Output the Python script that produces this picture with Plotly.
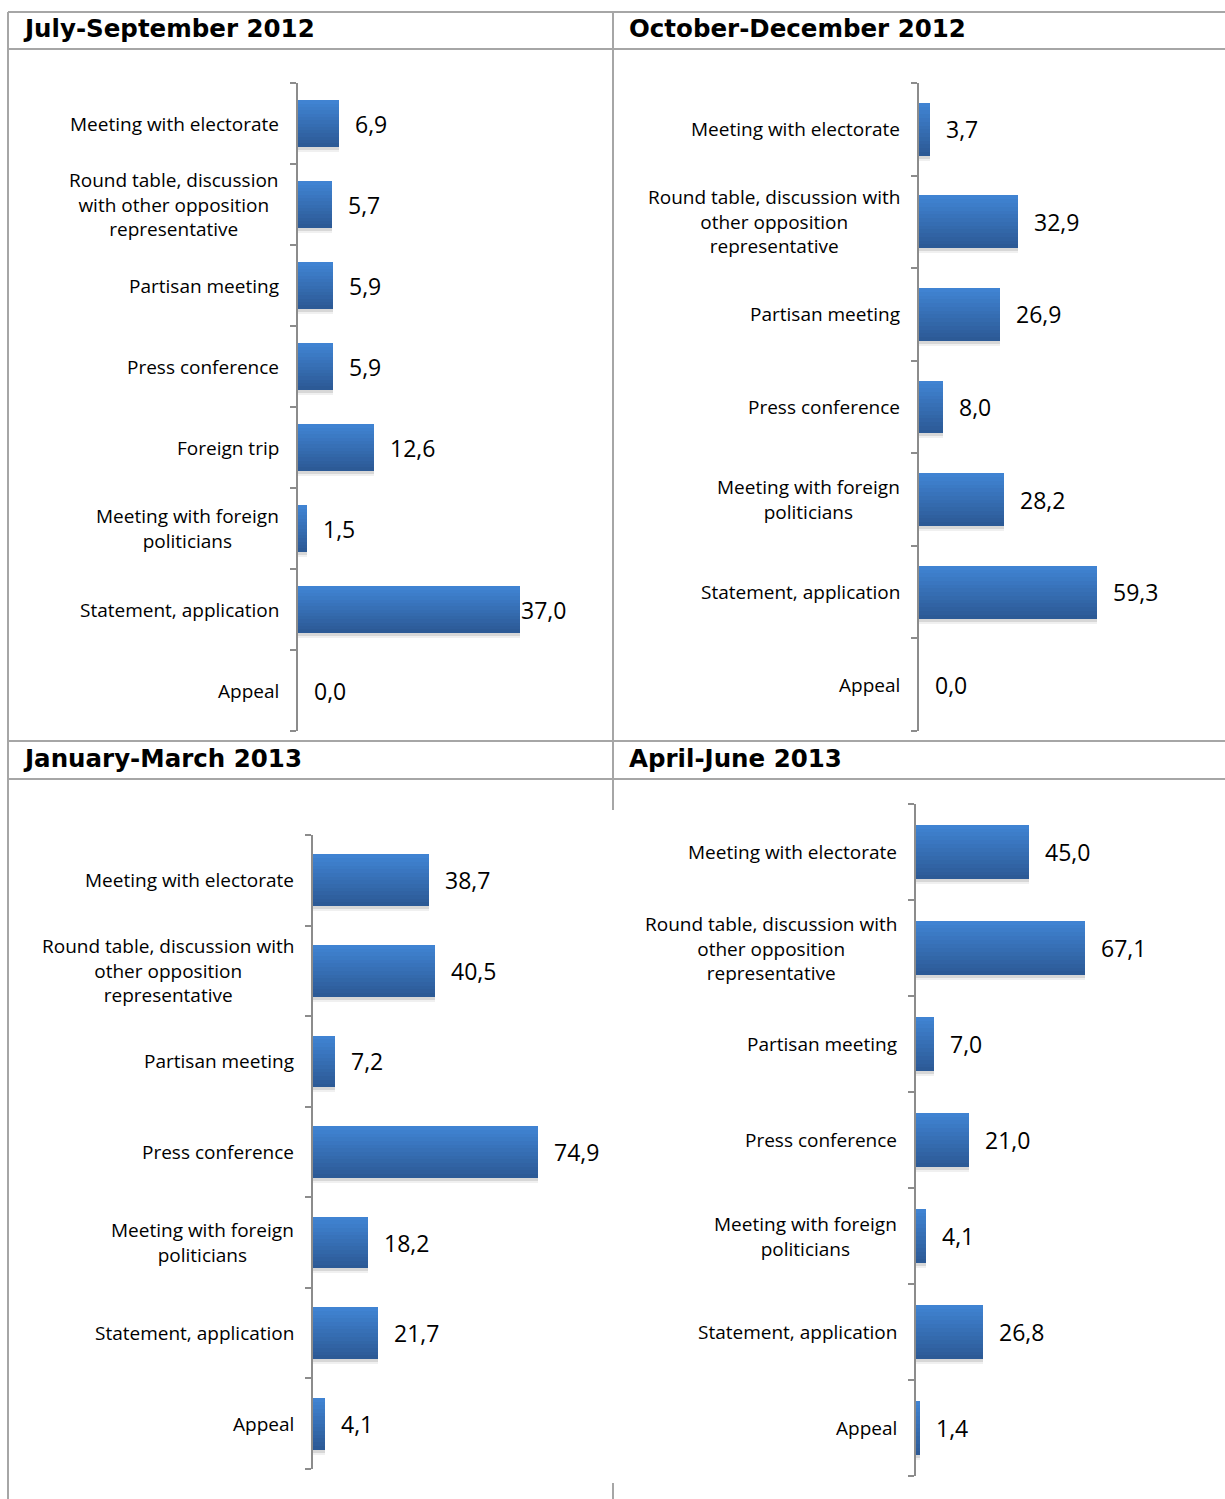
import plotly.graph_objects as go

# ---- data ---------------------------------------------------------------
titles = ["July-September 2012", "October-December 2012",
          "January-March 2013", "April-June 2013"]

cats_q3_2012 = ["Meeting with electorate",
                "Round table, discussion<br>with other opposition<br>representative",
                "Partisan meeting", "Press conference", "Foreign trip",
                "Meeting with foreign<br>politicians",
                "Statement, application", "Appeal"]
vals_q3_2012 = [6.9, 5.7, 5.9, 5.9, 12.6, 1.5, 37.0, 0.0]

cats_q4_2012 = ["Meeting with electorate",
                "Round table, discussion with<br>other opposition<br>representative",
                "Partisan meeting", "Press conference",
                "Meeting with foreign<br>politicians",
                "Statement, application", "Appeal"]
vals_q4_2012 = [3.7, 32.9, 26.9, 8.0, 28.2, 59.3, 0.0]

cats_q1_2013 = list(cats_q4_2012)
vals_q1_2013 = [38.7, 40.5, 7.2, 74.9, 18.2, 21.7, 4.1]

cats_q2_2013 = list(cats_q4_2012)
vals_q2_2013 = [45.0, 67.1, 7.0, 21.0, 4.1, 26.8, 1.4]

# ---- layout helpers -----------------------------------------------------
W, H = 1225, 1499


def px(x):
    return x / W


def py(y):
    return 1 - y / H


panels = [
    dict(title=titles[0], cats=cats_q3_2012, vals=vals_q3_2012, xmax=45,
         xdom=(298, 568), ydom=(83, 731), tpos=(21, 29)),
    dict(title=titles[1], cats=cats_q4_2012, vals=vals_q4_2012, xmax=100,
         xdom=(919, 1219), ydom=(83, 731), tpos=(627, 29)),
    dict(title=titles[2], cats=cats_q1_2013, vals=vals_q1_2013, xmax=100,
         xdom=(313, 613), ydom=(835, 1469), tpos=(21, 758)),
    dict(title=titles[3], cats=cats_q2_2013, vals=vals_q2_2013, xmax=120,
         xdom=(916, 1218), ydom=(804, 1476), tpos=(627, 758)),
]

BAR_W = 0.57
N_SLICES = 14
TOP_RGB = (64, 131, 210)
BOT_RGB = (44, 90, 150)
AXIS_COL = "#8c8c8c"
GRID_COL = "#a6a6a6"
LABEL_FONT = dict(family="Open Sans", size=19, color="#000000")
VALUE_FONT = dict(family="Open Sans", size=23, color="#000000")
TITLE_FONT = dict(family="DejaVu Sans", size=24.5, color="#000000", weight="bold")


def fmt(v):
    return f"{v:.1f}".replace(".", ",")


def mix(t):
    r, g, b = (round(a + (c - a) * t) for a, c in zip(TOP_RGB, BOT_RGB))
    return f"rgb({r},{g},{b})"


fig = go.Figure()
annotations = []
layout_axes = {}

for i, p in enumerate(panels, start=1):
    xa = "x" if i == 1 else f"x{i}"
    ya = "y" if i == 1 else f"y{i}"
    n = len(p["cats"])
    idx = list(range(n))
    cat_px = (p["ydom"][1] - p["ydom"][0]) / n

    # soft drop shadow under each bar
    for dy, alpha in ((5, 0.06), (3, 0.10)):
        fig.add_trace(go.Bar(
            x=p["vals"], y=idx, orientation="h", width=BAR_W,
            offset=-BAR_W / 2 + dy / cat_px,
            marker=dict(color=f"rgba(0,0,0,{alpha})", line=dict(width=0)),
            xaxis=xa, yaxis=ya, hoverinfo="skip", showlegend=False))

    # vertical gradient across the bar thickness, built from thin slices
    step = BAR_W / N_SLICES
    for k in range(N_SLICES):
        fig.add_trace(go.Bar(
            x=p["vals"], y=idx, orientation="h",
            width=step * 1.15 if k < N_SLICES - 1 else step,
            offset=-BAR_W / 2 + k * step,
            marker=dict(color=mix(k / (N_SLICES - 1)), line=dict(width=0)),
            xaxis=xa, yaxis=ya, hoverinfo="skip", showlegend=False))

    layout_axes["xaxis" if i == 1 else f"xaxis{i}"] = dict(
        domain=[px(p["xdom"][0]), px(p["xdom"][1])],
        range=[0, p["xmax"]], anchor=ya,
        showline=False, showgrid=False, zeroline=False,
        showticklabels=False, ticks="", fixedrange=True)
    layout_axes["yaxis" if i == 1 else f"yaxis{i}"] = dict(
        domain=[py(p["ydom"][1]), py(p["ydom"][0])],
        range=[n - 0.5, -0.5], anchor=xa,
        showline=True, linecolor=AXIS_COL, linewidth=2,
        ticks="outside", ticklen=6, tickwidth=2, tickcolor=AXIS_COL,
        tickmode="array", tickvals=[j - 0.5 for j in range(n + 1)],
        showticklabels=False, showgrid=False, zeroline=False,
        fixedrange=True)

    # category labels, centred lines, right-aligned against the axis
    for j, c in enumerate(p["cats"]):
        annotations.append(dict(
            text=c, x=0, xref=f"{xa} domain", y=j, yref=ya,
            xanchor="right", yanchor="middle", align="center",
            xshift=-17, showarrow=False, font=LABEL_FONT))

    # value labels beyond the bar end, pulled inside the plot when they overflow
    plot_w = p["xdom"][1] - p["xdom"][0]
    for j, v in enumerate(p["vals"]):
        txt = fmt(v)
        bar_end = v / p["xmax"] * plot_w
        est_w = 0.55 * VALUE_FONT["size"] * len(txt)
        if bar_end + 15 + est_w > plot_w:
            annotations.append(dict(
                text=txt, x=1, xref=f"{xa} domain", y=j, yref=ya,
                xanchor="right", yanchor="middle", showarrow=False,
                font=VALUE_FONT))
        else:
            annotations.append(dict(
                text=txt, x=v, xref=xa, y=j, yref=ya,
                xanchor="left", yanchor="middle", xshift=14,
                showarrow=False, font=VALUE_FONT))

    # block heading
    annotations.append(dict(
        text=p["title"], x=px(p["tpos"][0]), y=py(p["tpos"][1]),
        xref="paper", yref="paper", xanchor="left", yanchor="middle",
        showarrow=False, font=TITLE_FONT))

# table rules around the four blocks
shapes = []
for yy in (12, 49, 741, 779):
    shapes.append(dict(type="line", xref="paper", yref="paper",
                       x0=px(8), x1=px(W), y0=py(yy), y1=py(yy),
                       line=dict(color=GRID_COL, width=2)))
for x0, y0, y1 in ((8, 12, H), (613, 12, 810), (613, 1483, H)):
    shapes.append(dict(type="line", xref="paper", yref="paper",
                       x0=px(x0), x1=px(x0), y0=py(y0), y1=py(y1),
                       line=dict(color=GRID_COL, width=2)))

fig.update_layout(
    width=W, height=H, margin=dict(l=0, r=0, t=0, b=0),
    paper_bgcolor="white", plot_bgcolor="rgba(0,0,0,0)",
    barmode="overlay", bargap=0, showlegend=False,
    annotations=annotations, shapes=shapes, **layout_axes)

fig.write_html("out.html")
